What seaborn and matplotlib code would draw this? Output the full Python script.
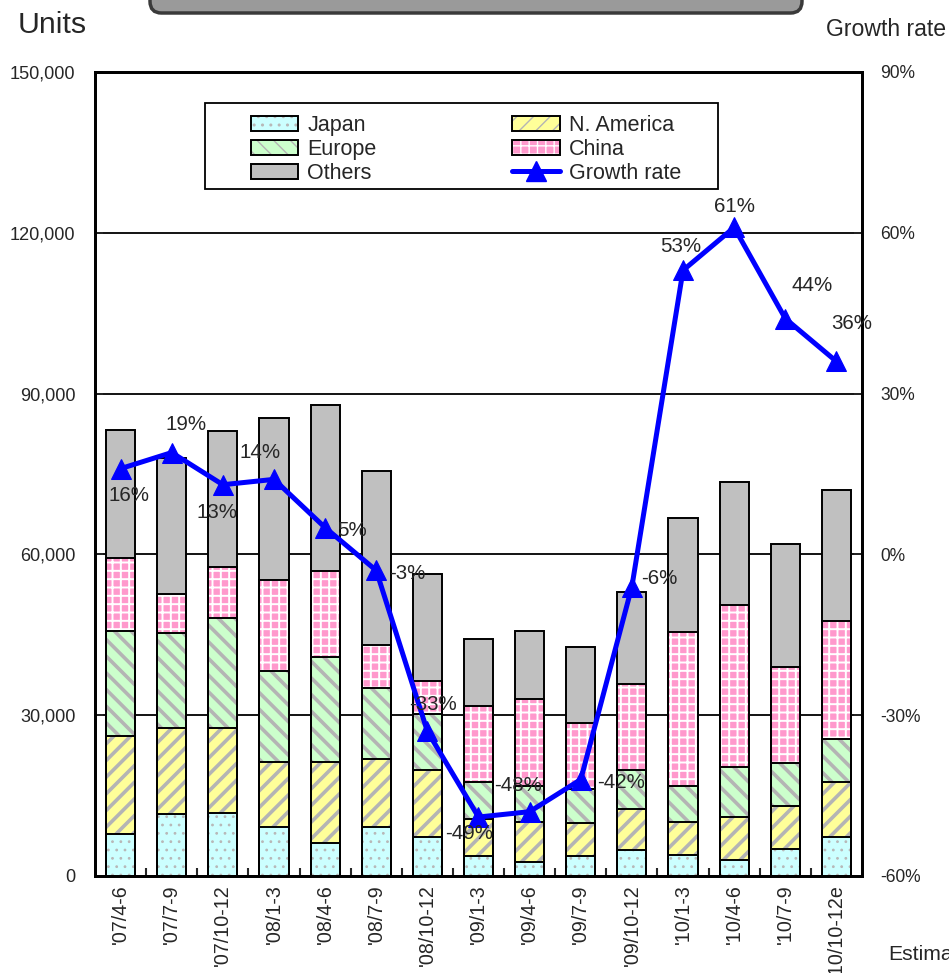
import numpy as np
import seaborn as sns
import matplotlib
matplotlib.use("Agg")
from matplotlib import pyplot as plt
from matplotlib import font_manager
from matplotlib.patches import Patch, Rectangle, FancyBboxPatch
from matplotlib.lines import Line2D
from matplotlib.ticker import FuncFormatter, FixedLocator

# data (units per quarter, growth rate in %)
quarters = ["'07/4-6", "'07/7-9", "'07/10-12", "'08/1-3", "'08/4-6", "'08/7-9",
            "'08/10-12", "'09/1-3", "'09/4-6", "'09/7-9", "'09/10-12", "'10/1-3",
            "'10/4-6", "'10/7-9", "'10/10-12e"]
japan = [7900, 11500, 11800, 9200, 6200, 9200, 7300, 3700, 2600, 3700, 4900, 4000, 2900, 5000, 7300]
n_america = [18200, 16100, 15800, 12100, 15100, 12600, 12500, 7000, 7500, 6100, 7600, 6100, 8200, 8100, 10200]
europe = [19700, 17800, 20600, 16900, 19600, 13300, 10400, 6900, 6600, 6400, 7300, 6600, 9300, 7900, 8100]
china = [13500, 7200, 9400, 17000, 16000, 8000, 6200, 14200, 16300, 12300, 16000, 28800, 30200, 17900, 22000]
others = [23900, 25400, 25400, 30200, 31000, 32500, 19900, 12500, 12800, 14300, 17200, 21200, 23000, 23000, 24500]
growth = [16, 19, 13, 14, 5, -3, -33, -49, -48, -42, -6, 53, 61, 44, 36]

# label offsets in points (dx, dy, ha)
label_pos = [(6, -19, "center"), (10, 20, "center"), (-4, -20, "center"), (-10, 19, "center"),
             (9, -2, "left"), (9, -2, "left"), (4, 19, "center"), (-7, -12, "center"),
             (-8, 19, "center"), (12, -2, "left"), (7, 6, "left"), (-2, 17, "center"),
             (0, 15, "center"), (19, 24, "center"), (11, 27, "center")]


def has_font(name):
    try:
        font_manager.findfont(name, fallback_to_default=False)
        return True
    except ValueError:
        return False


sns.set_theme(style="white")
if has_font("Liberation Sans Narrow"):
    cond, k = "Liberation Sans Narrow", 1.0
else:
    cond, k = "Liberation Sans", 0.87
plt.rcParams["font.family"] = ["Liberation Sans", "DejaVu Sans"]

fig = plt.figure(figsize=(9.49, 9.73), dpi=100)
ax = fig.add_axes([95 / 949, 1 - 876 / 973, 767 / 949, 804 / 973])

cum = np.cumsum([japan, n_america, europe, china, others], axis=0)
layers = [
    (cum[4], "#c0c0c0", None, "#c0c0c0", 1.0),
    (cum[3], "#ff99cc", "++", "#ffffff", 1.4),
    (cum[2], "#ccffcc", "\\\\", "#b4b4b4", 2.6),
    (cum[1], "#ffff99", "//", "#b4b4b4", 2.6),
    (cum[0], "#ccffff", "..", "#b8b8b8", 0.8),
]
bars = []
for vals, fc, hatch, hc, hlw in layers:
    before = len(ax.patches)
    with plt.rc_context({"hatch.linewidth": hlw}):
        sns.barplot(x=quarters, y=vals, color=fc, saturation=1, width=0.57,
                    errorbar=None, hatch=hatch, edgecolor=hc, linewidth=0, ax=ax)
    new = ax.patches[before:]
    for p in new:
        if hasattr(p, "set_hatch_linewidth"):
            p.set_hatch_linewidth(hlw)
    bars.extend(new)

for p in bars:
    ax.add_patch(Rectangle(p.get_xy(), p.get_width(), p.get_height(), fill=False,
                           edgecolor="black", linewidth=1.4, zorder=p.get_zorder() + 0.1))

ax.set_xlim(-0.5, len(quarters) - 0.5)
ax.set_ylim(0, 150000)
ax.set_yticks(np.arange(0, 150001, 30000))
ax.yaxis.set_major_formatter(FuncFormatter(lambda v, _: f"{v:,.0f}"))
ax.set_xlabel("")
ax.set_ylabel("")
ax.yaxis.grid(True, color="black", linewidth=1.3)
ax.xaxis.grid(False)
ax.set_axisbelow(True)
ax.tick_params(axis="x", which="major", length=0, pad=6, labelsize=16.2 * k,
               labelrotation=90)
for t in ax.get_xticklabels():
    t.set_fontfamily(cond)
    t.set_va("top")
ax.xaxis.set_minor_locator(FixedLocator(np.arange(0.5, len(quarters) - 1, 1)))
ax.tick_params(axis="x", which="minor", direction="in", length=6, width=1.5, bottom=True)
ax.tick_params(axis="y", direction="in", length=6, width=1.3, pad=14, labelsize=15 * k)
for t in ax.get_yticklabels():
    t.set_fontfamily(cond)
for s in ax.spines.values():
    s.set_linewidth(2)
    s.set_color("black")

ax2 = ax.twinx()
sns.lineplot(x=np.arange(len(quarters)), y=growth, ax=ax2, color="#0000ff", linewidth=3.6,
             marker="^", markersize=15, markeredgecolor="#0000ff", legend=False)
ax2.set_ylim(-60, 90)
ax2.set_yticks(np.arange(-60, 91, 30))
ax2.yaxis.set_major_formatter(FuncFormatter(lambda v, _: f"{v:.0f}%"))
ax2.tick_params(axis="y", direction="in", length=6, width=1.3, pad=13, labelsize=14.5 * k)
for t in ax2.get_yticklabels():
    t.set_fontfamily(cond)
ax2.set_ylabel("")
for s in ax2.spines.values():
    s.set_linewidth(2)
    s.set_color("black")

for i, g in enumerate(growth):
    dx, dy, ha = label_pos[i]
    ax2.annotate(f"{g}%", (i, g), xytext=(dx, dy), textcoords="offset points",
                 ha=ha, va="center", fontsize=17 * k, family=cond, zorder=6)

# legend
ax2.add_patch(Rectangle((0.143, 0.854), 0.669, 0.107, transform=ax2.transAxes,
                        facecolor="white", edgecolor="black", linewidth=1.3, zorder=4))


def box(fc, hatch, hc):
    return (Patch(facecolor=fc, hatch=hatch, edgecolor=hc, linewidth=0),
            Patch(fill=False, edgecolor="black", linewidth=1.4))


handles = [box("#ccffff", "..", "#b8b8b8"), box("#ccffcc", "\\\\", "#b4b4b4"),
           box("#c0c0c0", None, "#c0c0c0"), box("#ffff99", "//", "#b4b4b4"),
           box("#ff99cc", "++", "#ffffff"),
           Line2D([], [], color="#0000ff", linewidth=3.6, marker="^", markersize=15)]
labels = ["Japan", "Europe", "Others", "N. America", "China", "Growth rate"]
leg = ax2.legend(handles, labels, ncol=2, loc="upper left", bbox_to_anchor=(0.2034, 0.947),
                 frameon=False, borderpad=0, borderaxespad=0, fontsize=15.5,
                 handlelength=2.2, handleheight=0.7, handletextpad=0.42,
                 columnspacing=6.3, labelspacing=0.14)
leg.set_zorder(5)

# header texts
fig.text(18 / 949, 1 - 25 / 973, "Units", fontsize=25 * k, family=cond, va="center")
fig.text(946 / 949, 1 - 29 / 973, "Growth rate", fontsize=19 * k, family=cond,
         va="center", ha="right")
fig.text(888 / 949, 1 - 955 / 973, "Estimated", fontsize=17.5 * k, family=cond, va="center")

# partial title box at the top edge
fig.add_artist(FancyBboxPatch((150 / 949, 1 - 13 / 973), 652 / 949, 0.06,
                              boxstyle="round,pad=0,rounding_size=0.012",
                              transform=fig.transFigure, facecolor="#9a9a9a",
                              edgecolor="#3a3a3a", linewidth=2.5))

fig.savefig("out.png", dpi=100)
